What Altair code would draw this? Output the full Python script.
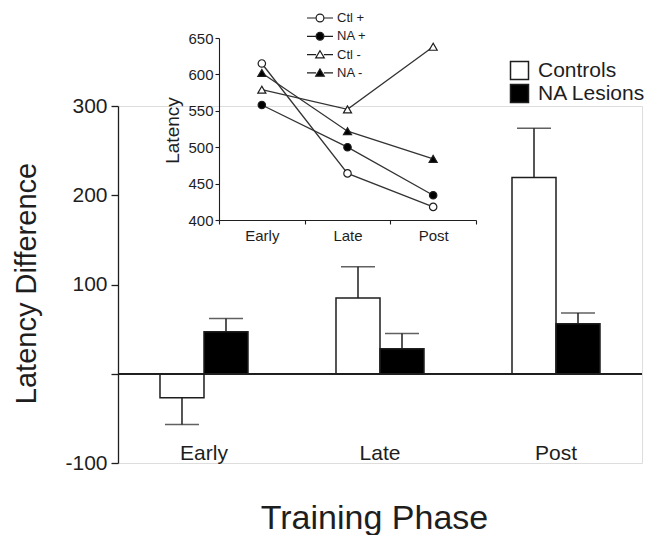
import altair as alt
import pandas as pd

# ---------------- data ----------------
phases = ["Early", "Late", "Post"]
groups = ["Controls", "NA Lesions"]
controls_mean = [-27, 85, 220]
controls_err_end = [-57, 120, 275]
lesion_mean = [47, 28, 56]
lesion_err_end = [62, 45, 68]

series_names = ["Ctl +", "NA +", "Ctl -", "NA -"]
ctl_plus = [615, 464, 418]
na_plus = [558, 500, 434]
ctl_minus = [579, 552, 638]
na_minus = [602, 522, 484]

main_y_ticks = [-100, 0, 100, 200, 300]
inset_y_ticks = [400, 450, 500, 550, 600, 650]

FONT = "Liberation Sans"
INK = "#1e1e1e"

# ---------------- tables ----------------
rows = []
for i, p in enumerate(phases):
    rows.append({"phase": p, "group": groups[0], "value": controls_mean[i], "err": controls_err_end[i]})
    rows.append({"phase": p, "group": groups[1], "value": lesion_mean[i], "err": lesion_err_end[i]})
bars_df = pd.DataFrame(rows)

inset_rows = []
for name, vals in zip(series_names, [ctl_plus, na_plus, ctl_minus, na_minus]):
    for p, v in zip(phases, vals):
        inset_rows.append({"phase": p, "series": name, "lat": v})
inset_df = pd.DataFrame(inset_rows)

W, H = 524, 357

# ---------------- main chart ----------------
x_main = alt.X(
    "phase:N",
    sort=phases,
    title="Training Phase",
    scale=alt.Scale(domain=phases, paddingInner=0.5, paddingOuter=0.2386),
    axis=alt.Axis(
        domain=False, ticks=False, tickSize=0, labelPadding=0, offset=-21,
        labelFontSize=21, labelFont=FONT, labelColor=INK, labelAngle=0,
        titleFontSize=34, titleFont=FONT, titleFontWeight="normal", titleColor=INK,
        titleX=256, titleY=86, titleBaseline="alphabetic", titleAlign="center",
    ),
)
xo = alt.XOffset("group:N", scale=alt.Scale(domain=groups, paddingInner=0, paddingOuter=0))
y_axis_main = alt.Axis(
    values=main_y_ticks, labelExpr="datum.value == 0 ? '' : toString(datum.value)",
    tickSize=7, labelPadding=4, labelFontSize=21, labelFont=FONT, labelColor=INK,
    domainColor=INK, tickColor=INK, domainWidth=1.3, tickWidth=1.3,
    labelFlush=False, labelOverlap=False, grid=False,
    titleFontSize=29, titleFont=FONT, titleFontWeight="normal", titleColor=INK,
    titleAngle=270, titleX=-83, titleY=177, titleBaseline="alphabetic", titleAlign="center",
)
y_scale_main = alt.Scale(domain=[-100, 300], nice=False, zero=False)

bars = alt.Chart(bars_df).mark_bar(stroke=INK, strokeWidth=1.5).encode(
    x=x_main,
    xOffset=xo,
    y=alt.Y("value:Q", title="Latency Difference", scale=y_scale_main, axis=y_axis_main),
    fill=alt.Fill(
        "group:N",
        scale=alt.Scale(domain=groups, range=["white", "black"]),
        legend=alt.Legend(
            orient="none", legendX=391, legendY=-46, title=None,
            symbolType="square", symbolSize=324, symbolStrokeColor=INK,
            symbolStrokeWidth=1.5, symbolFillColor="white",
            labelFontSize=21, labelFont=FONT, labelColor=INK, labelOffset=8,
            rowPadding=-2, padding=0,
        ),
    ),
)
err_rules = alt.Chart(bars_df).mark_rule(color=INK, strokeWidth=1.5).encode(
    x=x_main, xOffset=xo,
    y=alt.Y("value:Q", title="Latency Difference", scale=y_scale_main, axis=y_axis_main),
    y2="err:Q",
)
caps = alt.Chart(bars_df).mark_tick(color=INK, size=34, thickness=1.5, orient="horizontal").encode(
    x=x_main, xOffset=xo,
    y=alt.Y("err:Q", title="Latency Difference", scale=y_scale_main, axis=y_axis_main),
)
zero_line = alt.Chart(bars_df).mark_rule(color=INK, strokeWidth=1.5).encode(
    y=alt.Y("z:Q", title="Latency Difference", scale=y_scale_main, axis=y_axis_main),
).transform_calculate(z="0")

main = alt.layer(bars, err_rules, caps, zero_line)

# ---------------- inset ----------------
x_inset = alt.X(
    "phase:N", sort=phases, title=None,
    scale=alt.Scale(domain=phases, range=[101, 358], paddingInner=0, paddingOuter=0),
    axis=alt.Axis(
        orient="bottom", offset=-243, tickBand="extent", tickSize=4, labelPadding=4,
        labelFontSize=15, labelFont=FONT, labelColor=INK, labelAngle=0,
        domainColor=INK, tickColor=INK, domainWidth=1.1, tickWidth=1.1, grid=False,
    ),
)
y_inset = alt.Y(
    "lat:Q", title="Latency",
    scale=alt.Scale(domain=[400, 650], range=[114, -68], nice=False, zero=False),
    axis=alt.Axis(
        orient="left", offset=-101, values=inset_y_ticks, tickSize=4, labelPadding=2,
        labelFontSize=15, labelFont=FONT, labelColor=INK, labelFlush=False, labelOverlap=False,
        domainColor=INK, tickColor=INK, domainWidth=1.1, tickWidth=1.1, grid=False,
        titleFontSize=19, titleFont=FONT, titleFontWeight="normal", titleColor=INK,
        titleAngle=270, titleX=-41, titleY=24, titleBaseline="alphabetic", titleAlign="center",
    ),
)
inset_lines = alt.Chart(inset_df).mark_line(color="#333333", strokeWidth=1.3).encode(
    x=x_inset, y=y_inset, detail="series:N",
)
marker_style = {
    "Ctl +": ("circle", "white"),
    "NA +": ("circle", "black"),
    "Ctl -": ("triangle-up", "white"),
    "NA -": ("triangle-up", "black"),
}
point_layers = []
for name in series_names:
    shp, fc = marker_style[name]
    point_layers.append(
        alt.Chart(inset_df).mark_point(
            shape=shp, fill=fc, filled=True, stroke=INK, strokeWidth=1.2, opacity=1,
            size=55 if shp == "circle" else 65,
        ).encode(x=x_inset, y=y_inset).transform_filter(alt.datum.series == name)
    )
inset = alt.layer(inset_lines, *point_layers)

# legend for the inset (line + marker symbols)
circ_path = "M-1,0H-0.3M0.3,0H1M-0.3,0A0.3,0.3,0,1,0,0.3,0A0.3,0.3,0,1,0,-0.3,0Z"
tri_path = "M-1,0H-0.3M0.3,0H1M0,-0.3L0.33,0.25L-0.33,0.25Z"
legend_df = pd.DataFrame({"series": series_names})
inset_leg = alt.Legend(orient="none", legendX=188, legendY=-97, title=None,
                       symbolSize=676, symbolStrokeColor=INK, symbolStrokeWidth=1.2,
                       labelFontSize=13, labelFont=FONT, labelColor=INK,
                       labelOffset=3, clipHeight=18, rowPadding=0.3, padding=0)
inset_legend = alt.Chart(legend_df).mark_point(filled=True, strokeWidth=1.2, opacity=1).encode(
    shape=alt.Shape("series:N", scale=alt.Scale(domain=series_names,
                    range=[circ_path, circ_path, tri_path, tri_path]), legend=inset_leg),
    fill=alt.Fill("series:N", scale=alt.Scale(domain=series_names,
                  range=["white", "black", "white", "black"]), legend=inset_leg),
    stroke=alt.Stroke("series:N", scale=alt.Scale(domain=series_names,
                      range=[INK, INK, INK, INK]), legend=inset_leg),
).transform_filter("false")

chart = alt.layer(main, inset, inset_legend).resolve_scale(
    x="independent", y="independent", fill="independent", shape="independent",
    stroke="independent",
).resolve_axis(x="independent", y="independent").resolve_legend(
    fill="independent", shape="independent", stroke="independent"
).properties(
    width=W, height=H,
    autosize=alt.AutoSizeParams(type="none"),
    padding={"left": 110, "top": 98, "right": 3, "bottom": 72},
).configure_view(stroke=None).configure(background="white")

chart.save("out.html", embed_options={"renderer": "svg", "actions": False})
